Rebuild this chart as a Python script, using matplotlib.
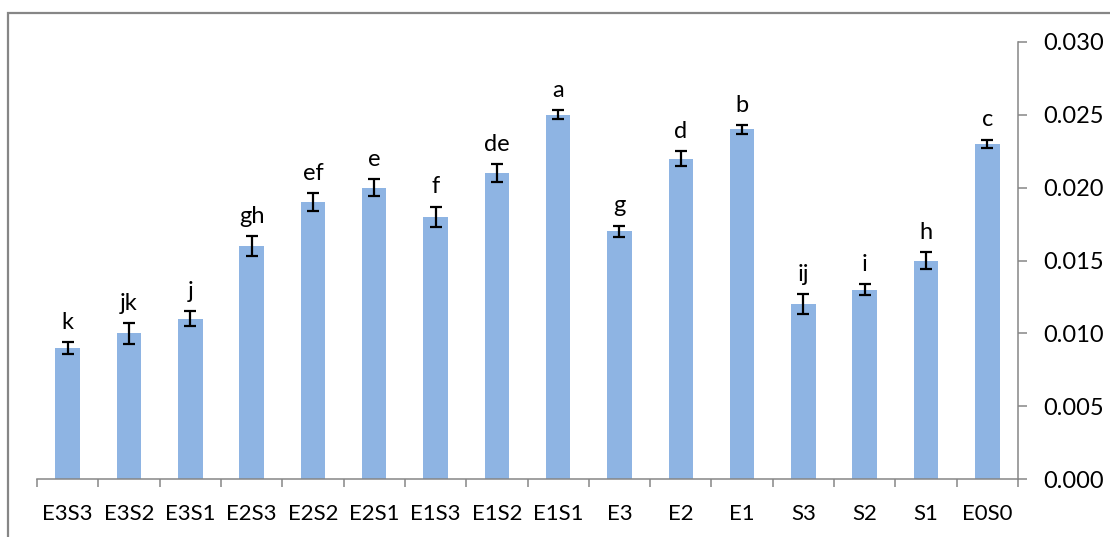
import numpy as np
import matplotlib
matplotlib.use("Agg")
import matplotlib.pyplot as plt
from matplotlib.patches import Rectangle

# 处理组名称、均值、标准误与显著性字母
groups = ["E3S3", "E3S2", "E3S1", "E2S3", "E2S2", "E2S1", "E1S3", "E1S2",
          "E1S1", "E3", "E2", "E1", "S3", "S2", "S1", "E0S0"]
means = [0.009, 0.010, 0.011, 0.016, 0.019, 0.020, 0.018, 0.021,
         0.025, 0.017, 0.022, 0.024, 0.012, 0.013, 0.015, 0.023]
errs = [0.0004, 0.0007, 0.0005, 0.0007, 0.0006, 0.0006, 0.0007, 0.0006,
        0.0003, 0.0004, 0.0005, 0.0003, 0.0007, 0.0004, 0.0006, 0.0003]
letters = ["k", "jk", "j", "gh", "ef", "e", "f", "de",
           "a", "g", "d", "b", "ij", "i", "h", "c"]

yticks = [0.000, 0.005, 0.010, 0.015, 0.020, 0.025, 0.030]

plt.rcParams['font.family'] = ['Lato', 'DejaVu Sans']
AXIS_GRAY = "#868686"
BAR_BLUE = "#8EB4E3"

W, H = 1110, 537
fig = plt.figure(figsize=(W / 100, H / 100), dpi=100)
ax = fig.add_axes([37 / W, 1 - 479 / H, (1018 - 37) / W, (479 - 42) / H])

x = np.arange(len(groups))
ax.bar(x, means, width=0.4, color=BAR_BLUE, zorder=2)
ax.errorbar(x, means, yerr=errs, fmt="none", ecolor="black",
            elinewidth=1.6, capsize=4.2, capthick=1.6, zorder=3)

# 显著性字母放在误差线上方
for xi, m, e, t in zip(x, means, errs, letters):
    ax.annotate(t, (xi, m + e), xytext=(0, 9.5), textcoords="offset points",
                ha="center", va="baseline", fontsize=17, color="black")

ax.set_xlim(-0.5, len(groups) - 0.5)
ax.set_ylim(0, 0.030)

# x轴: 刻度在组之间, 标签在组中间
ax.set_xticks(np.arange(-0.5, len(groups)), labels=[])
ax.set_xticks(x, labels=groups, minor=True)
ax.tick_params(axis="x", which="major", direction="out", length=6,
               width=1.1, color=AXIS_GRAY)
ax.tick_params(axis="x", which="minor", length=0, pad=18, labelsize=16)

# y轴在右侧
ax.yaxis.tick_right()
ax.set_yticks(yticks, labels=["%.3f" % v for v in yticks])
ax.tick_params(axis="y", direction="out", length=6.5, width=1.1,
               color=AXIS_GRAY, pad=12, labelsize=17)

for side in ["left", "top"]:
    ax.spines[side].set_visible(False)
for side in ["bottom", "right"]:
    ax.spines[side].set_color(AXIS_GRAY)
    ax.spines[side].set_linewidth(1.1)

# 图表外框
fig.patches.append(Rectangle((7.5 / W, -0.2), 1.5, 1 - 13 / H + 0.2,
                             transform=fig.transFigure, fill=False,
                             edgecolor=AXIS_GRAY, linewidth=1.6))

fig.savefig("out.png", dpi=100)
